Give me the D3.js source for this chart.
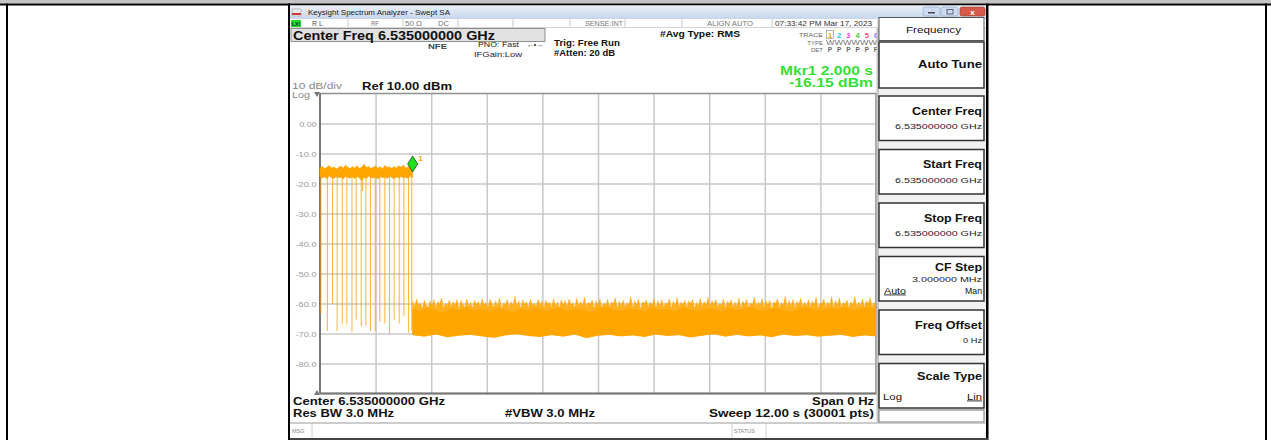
<!DOCTYPE html>
<html>
<head>
<meta charset="utf-8">
<script src="https://cdn.jsdelivr.net/npm/d3@7"></script>
<style>
html, body { margin: 0; padding: 0; background: #fff; }
svg { display: block; font-family: "Liberation Sans", Arial, sans-serif; }
</style>
</head>
<body>
<svg id="chart" width="1271" height="440"></svg>
<script>
// scale of the trace window
var sweepRange = [0, 12];          // seconds, span 0 Hz
var levelRange = [-90, 10];        // dBm, 10 dB/div
var yTicks = [0, -10, -20, -30, -40, -50, -60, -70, -80];
var yTickLabels = ["0.00", "-10.0", "-20.0", "-30.0", "-40.0", "-50.0", "-60.0", "-70.0", "-80.0"];

// burst part of the trace, 0 .. 2 s
var burstSpan = [0, 2];
var burstTop = [-14.8, -14.3, -15.1, -14.6, -14.0, -14.9, -14.4, -15.2, -14.7, -14.2, -14.9, -13.9, -14.6, -15.0, -14.4, -14.8, -14.1, -15.1, -14.5, -13.6, -14.7,
                -14.3, -15.0, -14.6, -14.2, -14.9, -14.4, -15.2, -14.0, -14.7, -14.5, -15.0, -14.3, -14.8, -14.1, -14.6, -13.8, -14.9, -14.4, -14.7, -14.2];
var burstBottom = [-17.6, -18.2, -17.8, -18.4, -17.5, -18.0, -18.3, -17.7, -18.1, -17.9, -18.5, -17.6, -18.0, -18.2, -17.8, -18.4, -17.7, -18.1, -19.0, -17.9, -18.3,
                   -17.6, -18.0, -18.2, -17.8, -18.5, -17.7, -18.1, -17.9, -18.3, -17.6, -18.0, -18.4, -17.8, -18.2, -17.7, -18.1, -17.9, -18.3, -17.6, -18.0];
// dropouts inside the burst
var dropTimes  = [0.02, 0.16, 0.27, 0.37, 0.48, 0.58, 0.69, 0.78, 0.89, 0.92, 0.99, 1.09, 1.19, 1.29, 1.40, 1.50, 1.60, 1.71, 1.81, 1.91, 1.98];
var dropLevels = [-63.3, -69.2, -60.3, -69.2, -66.7, -66.9, -69.4, -65.3, -67.6, -22.5, -67.3, -69.2, -69.2, -66.1, -66.7, -70.0, -65.5, -66.7, -64.2, -69.7, -69.0];

// noise floor part, 2 .. 12 s
var noiseSpan = [2, 12];
var noisePeak = [
    -59.2, -61.0, -58.4, -60.6, -59.8, -61.7, -58.9, -60.3, -61.4, -59.1, -60.8, -58.6, -61.2, -59.5, -60.1, -58.2, -61.5, -59.9, -60.7, -58.8,
    -61.1, -59.4, -60.5, -58.7, -61.8, -59.0, -60.2, -61.3, -58.5, -60.9, -59.6, -61.6, -58.9, -60.4, -59.3, -61.0, -58.3, -60.6, -59.7, -61.4,
    -58.6, -60.0, -61.2, -59.2, -60.8, -58.1, -61.5, -59.8, -60.3, -58.7, -61.1, -59.4, -60.6, -57.6, -60.9, -59.1, -61.7, -58.8, -60.2, -59.5,
    -61.3, -58.4, -60.7, -59.9, -61.0, -58.6, -60.4, -59.2, -61.6, -58.9, -60.1, -59.7, -61.2, -58.3, -60.8, -59.4, -61.5, -58.7, -60.5, -59.0,
    -61.1, -58.5, -60.3, -59.8, -61.4, -58.2, -60.9, -59.3, -60.6, -57.9, -61.0, -59.6, -60.2, -58.8, -61.7, -59.1, -60.7, -58.4, -61.3, -59.9,
    -60.4, -58.6, -61.2, -59.5, -60.0, -58.1, -61.6, -59.2, -60.8, -58.9, -61.1, -59.7, -60.3, -57.7, -61.4, -59.0, -60.6, -58.5, -61.8, -59.4,
    -60.1, -58.8, -61.0, -59.6, -60.5, -58.3, -61.5, -59.1, -60.9, -58.7, -61.2, -59.8, -60.2, -58.4, -61.6, -59.3, -60.7, -58.0, -61.1, -59.5,
    -60.4, -58.9, -61.3, -59.2, -60.0, -58.6, -61.7, -59.7, -60.8, -58.2, -61.0, -59.4, -60.5, -57.8, -61.4, -59.0, -60.3, -58.7, -61.2, -59.9,
    -60.6, -58.5, -61.5, -59.3, -60.1, -58.8, -61.1, -59.6, -60.9, -58.1, -61.6, -59.2, -60.4, -58.6, -61.3, -59.8, -60.2, -57.9, -61.0, -59.4,
    -60.7, -58.3, -61.4, -59.1, -60.5, -58.9, -61.8, -59.5, -60.0, -58.4, -61.2, -59.7, -60.6, -57.5, -61.1, -59.0, -60.8, -58.6, -61.5, -59.3,
    -60.3, -58.2, -61.0, -59.6, -60.9, -58.7, -61.3, -59.2, -60.4, -57.8, -61.6, -59.8, -60.1, -58.5, -61.2, -59.4, -60.7, -57.6, -61.4, -59.0,
    -60.5, -58.1, -61.1, -59.7, -60.2, -58.8, -61.5, -59.3, -60.6, -57.7, -61.0, -59.5, -60.8, -58.4, -61.3, -59.1, -60.0, -57.9, -61.2, -59.6, -60.4];
var noiseCore = [-61.9, -62.6, -61.5, -62.3, -62.9, -61.7, -62.4, -61.3, -62.5, -62.0, -62.8, -61.6, -62.2, -63.0, -61.8, -62.4, -61.4, -62.7, -62.1, -61.5,
                 -62.6, -61.9, -62.3, -62.9, -61.7, -61.2, -62.4, -62.5, -61.8, -62.1, -62.8, -61.6, -62.3, -61.9, -62.7, -61.4, -62.2, -62.5, -61.7, -62.0,
                 -62.9, -61.5, -62.4, -61.8, -61.3, -62.6, -62.1, -61.7, -62.4, -62.8, -61.9, -61.4, -62.2, -62.5, -61.6, -62.0, -61.3, -62.3, -61.8, -61.5, -62.1];
var noiseFloor = [-70.4, -70.9, -70.2, -71.1, -70.6, -70.3, -70.8, -71.3, -70.5, -70.1, -70.7, -71.0, -70.4, -70.9, -70.2, -71.4, -70.6, -70.3, -70.8, -70.5, -71.0,
                  -70.2, -70.7, -70.4, -71.2, -70.6, -70.1, -70.9, -70.3, -70.8, -70.5, -71.1, -70.2, -70.7, -70.4, -70.9, -70.6, -70.3, -71.0, -70.5, -70.8];

// marker 1
var mkrTime = 2.0;
var mkrLevel = -16.15;

// softkey menu
var softLabels = ["Center Freq", "Start Freq", "Stop Freq", "CF Step", "Freq Offset", "Scale Type"];
var softValues = ["6.535000000 GHz", "6.535000000 GHz", "6.535000000 GHz", "3.000000 MHz", "0 Hz", ""];
var softLabelW = [70, 59, 58, 47, 67, 65];
var softValueW = [87, 87, 87, 70, 19, 0];

var svg = d3.select("#chart");
var FONT = '"Liberation Sans", Arial, sans-serif';

// text helper, w stretches the text to the width seen in the screenshot
function txt(x, y, s, size, opts) {
    opts = opts || {};
    var t = svg.append("text")
        .attr("x", x).attr("y", y)
        .attr("font-size", size)
        .attr("font-weight", opts.bold ? "bold" : "normal")
        .attr("fill", opts.fill || "#000")
        .attr("text-anchor", opts.anchor || "start")
        .attr("text-decoration", opts.under ? "underline" : null)
        .text(s);
    if (opts.w) t.attr("textLength", opts.w).attr("lengthAdjust", "spacingAndGlyphs");
    return t;
}

// page frame
svg.append("rect").attr("x", 0).attr("y", 0).attr("width", 1271).attr("height", 3.5).attr("fill", "#c4c4c4");
svg.append("rect").attr("x", 0).attr("y", 3.5).attr("width", 1271).attr("height", 2).attr("fill", "#000");
svg.append("rect").attr("x", 6).attr("y", 3.5).attr("width", 2).attr("height", 437).attr("fill", "#000");
svg.append("rect").attr("x", 1265).attr("y", 3.5).attr("width", 2).attr("height", 437).attr("fill", "#000");
svg.append("rect").attr("x", 288).attr("y", 3.5).attr("width", 2).attr("height", 437).attr("fill", "#000");
svg.append("rect").attr("x", 986).attr("y", 3.5).attr("width", 2.5).attr("height", 437).attr("fill", "#000");

// title bar
var defs = svg.append("defs");
var grad = defs.append("linearGradient").attr("id", "tb").attr("x1", 0).attr("y1", 0).attr("x2", 0).attr("y2", 1);
grad.append("stop").attr("offset", "0%").attr("stop-color", "#e9f0f9");
grad.append("stop").attr("offset", "100%").attr("stop-color", "#c6d6eb");
svg.append("rect").attr("x", 290).attr("y", 5.5).attr("width", 696).attr("height", 13.5).attr("fill", "url(#tb)");
svg.append("rect").attr("x", 292).attr("y", 9).attr("width", 9).attr("height", 7).attr("fill", "#e8e8e8").attr("stroke", "#999").attr("stroke-width", 0.5);
svg.append("rect").attr("x", 292).attr("y", 13).attr("width", 9).attr("height", 2).attr("fill", "#d23a3a");
txt(308, 15, "Keysight Spectrum Analyzer - Swept SA", 7.5, {fill: "#222", w: 142});
[[923, 17], [941, 17]].forEach(function (b) {
    svg.append("rect").attr("x", b[0]).attr("y", 7).attr("width", b[1]).attr("height", 9).attr("rx", 2)
        .attr("fill", "#cddcf0").attr("stroke", "#8aa2c4").attr("stroke-width", 0.6);
});
svg.append("rect").attr("x", 960).attr("y", 7).attr("width", 25).attr("height", 9).attr("rx", 2)
    .attr("fill", "#d65a4a").attr("stroke", "#9b3a30").attr("stroke-width", 0.6);
svg.append("rect").attr("x", 928).attr("y", 12).attr("width", 7).attr("height", 1.5).attr("fill", "#445");
svg.append("rect").attr("x", 947).attr("y", 9.5).attr("width", 6).attr("height", 4.5).attr("fill", "none").attr("stroke", "#445").attr("stroke-width", 0.8);
txt(972.5, 14.5, "x", 8, {fill: "#fff", anchor: "middle", bold: true});

// status row
svg.append("rect").attr("x", 290).attr("y", 19).attr("width", 696).attr("height", 8.5).attr("fill", "#fff");
svg.append("line").attr("x1", 290).attr("x2", 986).attr("y1", 27.5).attr("y2", 27.5).attr("stroke", "#bbb").attr("stroke-width", 0.6);
svg.append("rect").attr("x", 291).attr("y", 20).attr("width", 10).attr("height", 7).attr("fill", "#22dd22");
txt(292, 26, "LXI", 5, {bold: true, fill: "#035"});
[348, 403, 458, 513, 570, 625, 682, 772, 878].forEach(function (sx) {
    svg.append("line").attr("x1", sx).attr("x2", sx).attr("y1", 19).attr("y2", 27.5).attr("stroke", "#aaa").attr("stroke-width", 0.6);
});
txt(312, 26, "R L", 6.5, {fill: "#555", w: 11});
txt(371, 26, "RF", 6.5, {fill: "#777", w: 8});
txt(405, 26, "50 Ω", 6.5, {fill: "#777", w: 17});
txt(438, 26, "DC", 6.5, {fill: "#777", w: 11});
txt(585, 26, "SENSE:INT", 6.5, {fill: "#777", w: 38});
txt(707, 26, "ALIGN AUTO", 6.5, {fill: "#777", w: 46});
txt(775, 26, "07:33:42 PM Mar 17, 2023", 6.8, {fill: "#333", w: 97});

// active function box
svg.append("rect").attr("x", 291).attr("y", 28.5).attr("width", 254).attr("height", 13).attr("fill", "#e2e2e2").attr("stroke", "#777").attr("stroke-width", 0.8);
txt(293, 40, "Center Freq 6.535000000 GHz", 13, {bold: true, fill: "#111", w: 202});

// settings text
txt(428, 49, "NFE", 7, {bold: true, fill: "#444", w: 19});
txt(478, 47, "PNO: Fast", 7, {fill: "#222", w: 41});
txt(527, 47, "\u2190\u2022\u2192", 6.5, {fill: "#222", w: 16});
txt(474, 57, "IFGain:Low", 7, {fill: "#222", w: 48});
txt(554, 46, "Trig: Free Run", 9, {bold: true, fill: "#111", w: 66});
txt(554, 55.5, "#Atten: 20 dB", 9, {bold: true, fill: "#111", w: 61});
txt(660, 37, "#Avg Type: RMS", 8.5, {bold: true, fill: "#111", w: 80});

// trace / type / det table
txt(823, 37, "TRACE", 6, {anchor: "end", fill: "#666", w: 24});
txt(823, 44.5, "TYPE", 6, {anchor: "end", fill: "#666"});
txt(823, 52, "DET", 6, {anchor: "end", fill: "#666"});
svg.append("rect").attr("x", 826.5).attr("y", 30.5).attr("width", 7).attr("height", 8).attr("fill", "none").attr("stroke", "#888").attr("stroke-width", 0.6);
var traceColors = ["#f0a000", "#00d0f0", "#ff40ff", "#40d040", "#ff5080", "#9070ff"];
traceColors.forEach(function (c, i) {
    txt(830 + i * 9.2, 37.5, String(i + 1), 7.5, {anchor: "middle", fill: c, bold: true});
    txt(830 + i * 9.2, 52, "P", 6.5, {anchor: "middle", fill: "#666", bold: true});
});
txt(826, 44.5, "WWWWWW", 6.5, {fill: "#777", w: 51});

// marker readout
txt(873, 74.5, "Mkr1 2.000 s", 13.5, {bold: true, fill: "#33e033", anchor: "end", w: 93});
txt(873, 87, "-16.15 dBm", 13.5, {bold: true, fill: "#33e033", anchor: "end", w: 84});

// scale header
txt(292, 89, "10 dB/div", 9, {fill: "#888", w: 50});
txt(292, 97.5, "Log", 8.5, {fill: "#888", w: 18});
txt(362, 89.5, "Ref 10.00 dBm", 11, {bold: true, fill: "#111", w: 90});

// trace window
var x = d3.scaleLinear().domain(sweepRange).range([320, 876]);
var y = d3.scaleLinear().domain(levelRange).range([393.5, 93.5]);
var W = 556, H = 300;

var gy = svg.append("g").attr("transform", "translate(320,0)")
    .call(d3.axisLeft(y).tickValues(yTicks).tickSize(-W).tickPadding(3.5)
        .tickFormat(function (d, i) { return yTickLabels[i]; }));
gy.select(".domain").remove();
gy.selectAll("line").attr("stroke", "#c8c8c8").attr("stroke-width", 1.5);
gy.selectAll("text").attr("fill", "#9a9a9a").attr("font-size", 8).attr("font-family", FONT)
    .attr("textLength", function (d, i) { return yTickLabels[i].length === 4 ? 17 : 21; })
    .attr("lengthAdjust", "spacingAndGlyphs");

var gx = svg.append("g").attr("transform", "translate(0,393.5)")
    .call(d3.axisBottom(x).tickValues(d3.range(sweepRange[0] + 1.2, sweepRange[1], 1.2)).tickSize(-H).tickFormat(""));
gx.select(".domain").remove();
gx.selectAll("line").attr("stroke", "#c8c8c8").attr("stroke-width", 1.5);

svg.append("rect").attr("x", 320).attr("y", 93.5).attr("width", W).attr("height", H)
    .attr("fill", "none").attr("stroke", "#909090").attr("stroke-width", 1.5);
svg.append("line").attr("x1", 320).attr("x2", 320).attr("y1", 93.5).attr("y2", 393.5).attr("stroke", "#777").attr("stroke-width", 2);
svg.append("line").attr("x1", 320).attr("x2", 876).attr("y1", 393.5).attr("y2", 393.5).attr("stroke", "#777").attr("stroke-width", 2);
svg.append("path").attr("d", "M314,92 L320,92 L317,97 Z").attr("fill", "#777");
svg.append("path").attr("d", "M314,395 L320,395 L317,390 Z").attr("fill", "#777");

var ORANGE = "#ffa500";
var line = d3.line().x(function (d) { return x(d[0]); }).y(function (d) { return y(d[1]); });

// closed outline: top envelope left to right, bottom envelope back
function band(span, top, bottom) {
    var pts = top.map(function (v, i) {
        return [span[0] + (span[1] - span[0]) * i / (top.length - 1), v];
    });
    var back = bottom.map(function (v, i) {
        return [span[0] + (span[1] - span[0]) * i / (bottom.length - 1), v];
    }).reverse();
    return pts.concat(back);
}

// dropouts first, so the band sits on top
svg.append("g").selectAll("line").data(dropTimes).enter().append("line")
    .attr("x1", function (d) { return x(d); })
    .attr("x2", function (d) { return x(d); })
    .attr("y1", y(-17))
    .attr("y2", function (d, i) { return y(dropLevels[i]); })
    .attr("stroke", ORANGE).attr("stroke-width", 1.1).attr("opacity", 0.75);

svg.append("path").attr("d", line(band(burstSpan, burstTop, burstBottom)) + "Z")
    .attr("fill", ORANGE).attr("stroke", ORANGE).attr("stroke-width", 0.6);

// noise: spiky fringe, then solid core
svg.append("path").attr("d", line(band(noiseSpan, noisePeak, noiseFloor)) + "Z")
    .attr("fill", ORANGE).attr("fill-opacity", 0.88).attr("stroke", ORANGE).attr("stroke-width", 0.5).attr("stroke-opacity", 0.7);
svg.append("path").attr("d", line(band(noiseSpan, noiseCore, noiseFloor)) + "Z")
    .attr("fill", ORANGE).attr("stroke", ORANGE).attr("stroke-width", 0.6);

// marker diamond
var mx = x(mkrTime), my = y(mkrLevel);
svg.append("path")
    .attr("d", "M" + mx + "," + my + " L" + (mx + 5) + "," + (my - 8) + " L" + mx + "," + (my - 16) + " L" + (mx - 5) + "," + (my - 8) + " Z")
    .attr("fill", "#1fe01f").attr("stroke", "#1a4d1a").attr("stroke-width", 0.8);
txt(mx + 5.5, my - 11, "1", 8, {fill: ORANGE, bold: true});

// bottom annotations
txt(293, 404.5, "Center 6.535000000 GHz", 10.5, {bold: true, fill: "#111", w: 152});
txt(293, 417, "Res BW 3.0 MHz", 10.5, {bold: true, fill: "#111", w: 101});
txt(505, 417, "#VBW 3.0 MHz", 10.5, {bold: true, fill: "#111", w: 90});
txt(874, 404.5, "Span 0 Hz", 10.5, {bold: true, fill: "#111", anchor: "end", w: 62});
txt(874, 417, "Sweep  12.00 s (30001 pts)", 10.5, {bold: true, fill: "#111", anchor: "end", w: 165});

// message bar
svg.append("line").attr("x1", 290).attr("x2", 986).attr("y1", 423).attr("y2", 423).attr("stroke", "#999").attr("stroke-width", 1);
svg.append("line").attr("x1", 312).attr("x2", 312).attr("y1", 423).attr("y2", 438).attr("stroke", "#bbb").attr("stroke-width", 0.7);
svg.append("line").attr("x1", 732).attr("x2", 732).attr("y1", 423).attr("y2", 438).attr("stroke", "#bbb").attr("stroke-width", 0.7);
svg.append("line").attr("x1", 766).attr("x2", 766).attr("y1", 423).attr("y2", 438).attr("stroke", "#bbb").attr("stroke-width", 0.7);
txt(292, 433, "MSG", 5.5, {fill: "#888"});
txt(734, 433, "STATUS", 5.5, {fill: "#888"});
svg.append("rect").attr("x", 290).attr("y", 438).attr("width", 698).attr("height", 2).attr("fill", "#444");

// softkey panel
svg.append("rect").attr("x", 877).attr("y", 28).attr("width", 109).attr("height", 395).attr("fill", "#f1f1f1");
svg.append("rect").attr("x", 876.5).attr("y", 28).attr("width", 2.5).attr("height", 395).attr("fill", "#c4c4c4");
svg.append("rect").attr("x", 879).attr("y", 17.5).attr("width", 105).attr("height", 23).attr("fill", "#fff").attr("stroke", "#555").attr("stroke-width", 1);
txt(906, 32.5, "Frequency", 9.5, {fill: "#111", w: 55});
svg.append("rect").attr("x", 879).attr("y", 42).attr("width", 105).attr("height", 46).attr("fill", "#fff").attr("stroke", "#333").attr("stroke-width", 1.5);
txt(982, 67.5, "Auto Tune", 10.5, {bold: true, anchor: "end", fill: "#111", w: 64});

softLabels.forEach(function (lab, i) {
    var top = 96 + i * 53.5;
    svg.append("rect").attr("x", 879).attr("y", top).attr("width", 105).attr("height", 44.5)
        .attr("fill", "#fff").attr("stroke", "#333").attr("stroke-width", 1.5);
    var ly = i === 3 ? 14.7 : (i === 5 ? 16.3 : 18.5);
    txt(982, top + ly, lab, 10.5, {bold: true, anchor: "end", fill: "#111", w: softLabelW[i]});
    if (softValues[i]) txt(982, top + (i === 3 ? 25.7 : 33), softValues[i], 8, {anchor: "end", fill: "#222", w: softValueW[i]});
    if (i === 3) {
        txt(884, top + 37, "Auto", 8.5, {fill: "#111", under: true, w: 22});
        txt(982, top + 37, "Man", 8.5, {fill: "#111", anchor: "end", w: 17});
    }
    if (i === 5) {
        txt(883, top + 36, "Log", 8.5, {fill: "#111", w: 19});
        txt(982, top + 36, "Lin", 8.5, {fill: "#111", anchor: "end", under: true, w: 15});
    }
});
svg.append("rect").attr("x", 879).attr("y", 410).attr("width", 105).attr("height", 12).attr("fill", "#fff").attr("stroke", "#777").attr("stroke-width", 1);
</script>
</body>
</html>
